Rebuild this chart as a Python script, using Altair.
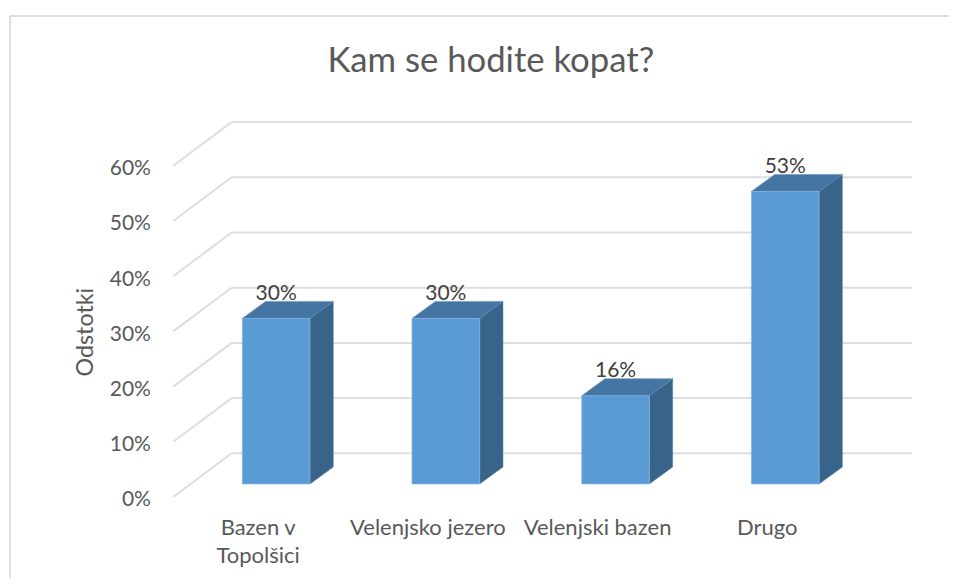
import altair as alt
import pandas as pd

# ---- chart values ----
categories = ["Bazen v\nTopolšici", "Velenjsko jezero", "Velenjski bazen", "Drugo"]
values = [30, 30, 16, 53]
y_ticks = [0, 10, 20, 30, 40, 50, 60]
title_text = "Kam se hodite kopat?"
y_title = "Odstotki"

FONT = "Lato"
BAR_HALF = 0.1995
BAR_DX, BAR_DY = 0.1373, 3.08
WALL_X0, WALL_X1 = -0.2625, 3.745
WALL_DY = 5.56
FLOOR_X, FLOOR_DY = -0.6066, -2.355
XDOM = [-1.5802, 3.965]
YDOM = [-17.03, 86.23]

x_s = alt.Scale(domain=XDOM, nice=False, zero=False)
y_s = alt.Scale(domain=YDOM, nice=False, zero=False)
X = lambda f: alt.X(f, type="quantitative", scale=x_s, axis=None)
Y = lambda f: alt.Y(f, type="quantitative", scale=y_s, axis=None)

# grid
grid_df = pd.DataFrame({
    "tick": y_ticks,
    "x0": WALL_X0, "x1": WALL_X1,
    "y": [t + WALL_DY for t in y_ticks],
    "fx": FLOOR_X,
    "fy": [t + FLOOR_DY for t in y_ticks],
})
wall = alt.Chart(grid_df).mark_rule(color="#dedede", strokeWidth=2).encode(
    x=X("x0"), x2="x1", y=Y("y"))
floor = alt.Chart(grid_df).mark_rule(color="#dedede", strokeWidth=2).encode(
    x=X("fx"), x2="x0", y=Y("fy"), y2="y")

# bars
pos = list(range(len(values)))
front_df = pd.DataFrame({
    "cat": categories, "v": values, "zero": 0,
    "l": [p - BAR_HALF for p in pos], "r": [p + BAR_HALF for p in pos],
})
side_rows, top_rows = [], []
for p, v in zip(pos, values):
    r = p + BAR_HALF
    l = p - BAR_HALF
    side_rows += [
        dict(b=p, x=r, y=v, y2=0),
        dict(b=p, x=r + BAR_DX, y=v + BAR_DY, y2=BAR_DY),
    ]
    top_rows += [
        dict(b=p, y=v, x=l, x2=r),
        dict(b=p, y=v + BAR_DY, x=l + BAR_DX, x2=r + BAR_DX),
    ]
side = alt.Chart(pd.DataFrame(side_rows)).mark_area(
    color="#386489", stroke="#5a86ab", strokeWidth=0.5, interpolate="linear"
).encode(x=X("x"), y=Y("y"), y2="y2", detail="b:N")
top = alt.Chart(pd.DataFrame(top_rows)).mark_area(
    color="#4575a2", stroke="#5f8cb6", strokeWidth=0.5, orient="horizontal", interpolate="linear"
).encode(y=Y("y"), x=X("x"), x2="x2", detail="b:N")
front = alt.Chart(front_df).mark_rect(
    color="#5b9bd5", stroke="#86b6e2", strokeWidth=0.6
).encode(x=X("l"), x2="r", y=Y("v"), y2="zero")

# text
value_df = pd.DataFrame({"x": [p for p in pos], "y": [v + 3.35 for v in values],
                         "t": [f"{v}%" for v in values]})
value_text = alt.Chart(value_df).mark_text(
    font=FONT, fontSize=21, color="#404040", align="center", baseline="alphabetic"
).encode(x=X("x"), y=Y("y"), text="t:N")

tick_df = pd.DataFrame({"x": -0.738, "y": [t + FLOOR_DY - 0.6 for t in y_ticks],
                        "t": [f"{t}%" for t in y_ticks]})
tick_text = alt.Chart(tick_df).mark_text(
    font=FONT, fontSize=21, color="#595959", align="right", baseline="middle"
).encode(x=X("x"), y=Y("y"), text="t:N")

cat_df = pd.DataFrame({"x": [p - 0.106 for p in pos], "y": -9.24, "t": categories})
cat_text = alt.Chart(cat_df).mark_text(
    font=FONT, fontSize=22, color="#595959", align="center", baseline="alphabetic",
    lineBreak="\n", lineHeight=28
).encode(x=X("x"), y=Y("y"), text="t:N")

ytitle = alt.Chart(pd.DataFrame({"x": [-1.12], "y": [27.5], "t": [y_title]})).mark_text(
    font=FONT, fontSize=23.3, color="#595959", angle=270, align="center", baseline="middle"
).encode(x=X("x"), y=Y("y"), text="t:N")

main_title = alt.Chart(pd.DataFrame({"x": [1.265], "y": [76.5], "t": [title_text]})).mark_text(
    font=FONT, fontSize=34.7, color="#595959", align="center", baseline="middle"
).encode(x=X("x"), y=Y("y"), text="t:N")

# frame (top and left border of the chart area)
frame_df = pd.DataFrame({"x0": [XDOM[0] + 0.012], "x1": [XDOM[1]], "y0": [YDOM[0]], "y1": [YDOM[1] - 1.45]})
frame_top = alt.Chart(frame_df).mark_rule(color="#dedede", strokeWidth=2).encode(x=X("x0"), x2="x1", y=Y("y1"))
frame_left = alt.Chart(frame_df).mark_rule(color="#dedede", strokeWidth=2).encode(x=X("x0"), y=Y("y0"), y2="y1")

chart = alt.layer(
    frame_top, frame_left, wall, floor, side, top, front,
    value_text, tick_text, cat_text, ytitle, main_title
).properties(
    width=941, height=570, padding=0, autosize=alt.AutoSizeParams(type="none")
).configure_view(stroke=None)

chart.save("out.html", embed_options={"renderer": "svg", "actions": False})
